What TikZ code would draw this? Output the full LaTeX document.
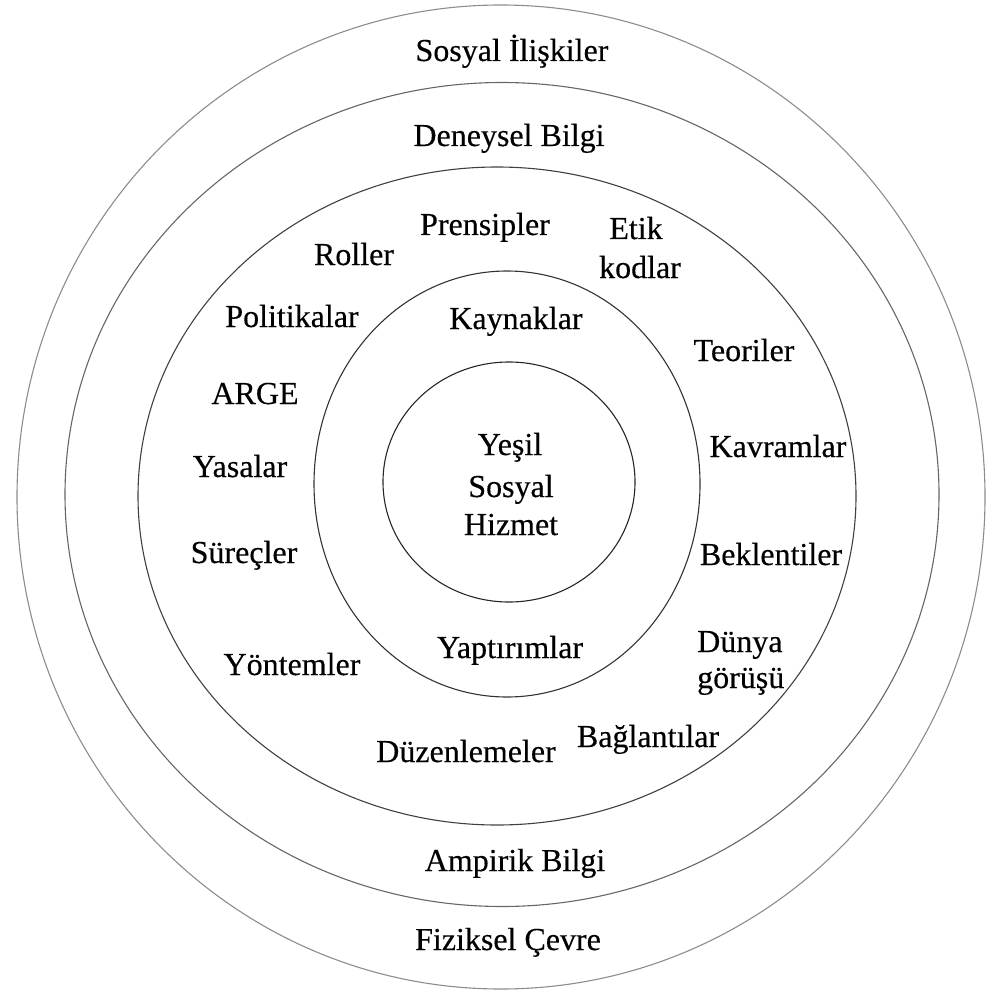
\documentclass[tikz,border=0pt]{standalone}
\usepackage{fontspec}
\setmainfont[FakeBold=0.35]{Liberation Serif}
\begin{document}
\begin{tikzpicture}[x=1pt,y=-1pt,
  lbl/.style={anchor=base, inner sep=0pt, font=\fontsize{32}{38}\selectfont},
  lblw/.style={lbl, anchor=base west},
  ring/.style={line width=1.1pt}]
\useasboundingbox (0,0) rectangle (989,992);
% rings
\draw[ring, black!45] (501,497) ellipse [x radius=484, y radius=492];
\draw[ring, black!60] (502,494.5) ellipse [x radius=437, y radius=412];
\draw[ring, black!75] (497,496) ellipse [x radius=359, y radius=329];
\draw[ring, black!80] (507,484) ellipse [x radius=193, y radius=213];
\draw[ring, black!85] (509,482) ellipse [x radius=126, y radius=120];
% labels
\node[lbl] (sosyal) at (512,61) {Sosyal İlişkiler};
\node[lbl] (deneysel) at (509,146) {Deneysel Bilgi};
\node[lbl] (prensipler) at (485,235) {Prensipler};
\node[lbl] (etik) at (636,239) {Etik};
\node[lbl] (kodlar) at (640,278) {kodlar};
\node[lbl] (roller) at (354,265) {Roller};
\node[lbl] (politikalar) at (292,327) {Politikalar};
\node[lbl] (kaynaklar) at (516,329) {Kaynaklar};
\node[lbl] (teoriler) at (744,361) {Teoriler};
\node[lbl] (arge) at (255,404) {ARGE};
\node[lbl] (yesil) at (510,455) {Yeşil};
\node[lbl] (sosyal2) at (511,497) {Sosyal};
\node[lbl] (hizmet) at (511,535) {Hizmet};
\node[lbl] (kavramlar) at (778,457) {Kavramlar};
\node[lbl] (yasalar) at (240,477) {Yasalar};
\node[lbl] (surecler) at (244,563) {Süreçler};
\node[lbl] (beklentiler) at (771,565) {Beklentiler};
\node[lblw] (dunya) at (697,652) {Dünya};
\node[lblw] (gorusu) at (697,688) {görüşü};
\node[lbl] (yaptirimlar) at (510,658) {Yaptırımlar};
\node[lbl] (yontemler) at (292,675) {Yöntemler};
\node[lbl] (baglantilar) at (648,747) {Bağlantılar};
\node[lbl] (duzenlemeler) at (466,762) {Düzenlemeler};
\node[lbl] (ampirik) at (515,871) {Ampirik Bilgi};
\node[lbl] (fiziksel) at (508,950) {Fiziksel Çevre};
\end{tikzpicture}
\end{document}
